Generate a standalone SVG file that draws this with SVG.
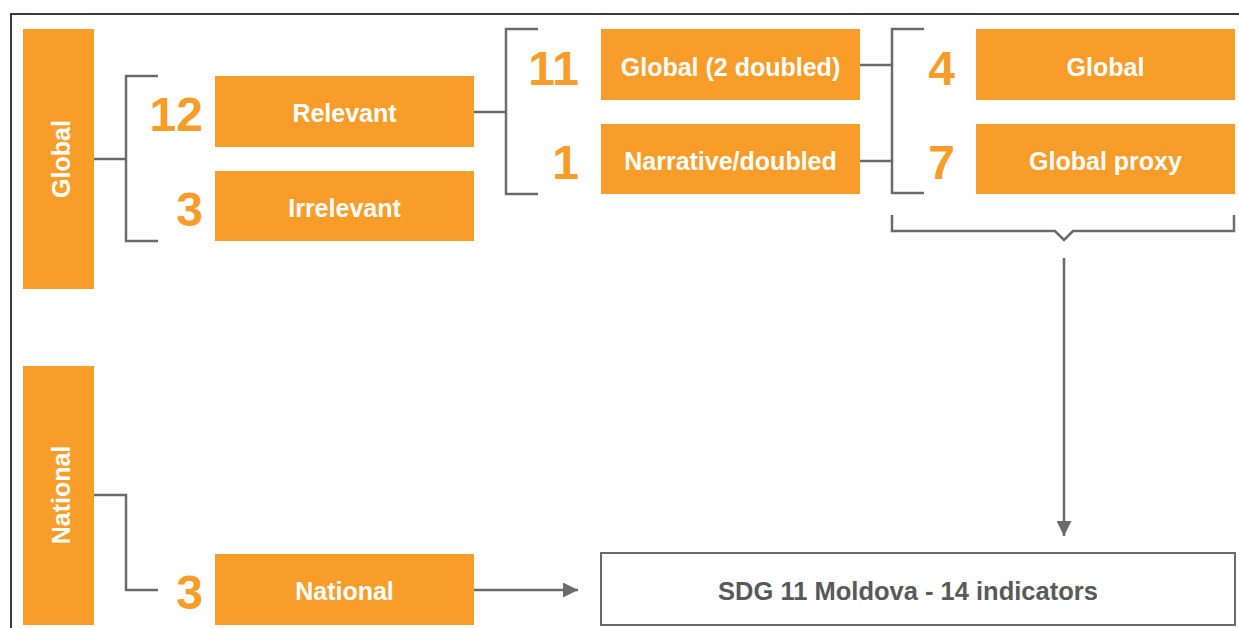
<svg xmlns="http://www.w3.org/2000/svg" width="1239" height="628" viewBox="0 0 1239 628">
<defs>
<style>
.box{fill:#F99D2A}
.bt{fill:#fff;font-family:"Liberation Sans",Arial,sans-serif;font-weight:bold;font-size:25px;text-anchor:middle}
.num{fill:#F99D2A;font-family:"Liberation Sans",Arial,sans-serif;font-weight:bold;font-size:48px;text-anchor:end}
.ln{fill:none;stroke:#6B6B6B;stroke-width:2.5}
</style>
<marker id="arr" viewBox="0 0 10 10" refX="10" refY="5" markerWidth="6" markerHeight="6" markerUnits="strokeWidth" orient="auto">
<path d="M0,0 L10,5 L0,10 Z" fill="#6B6B6B"/>
</marker>
</defs>
<rect width="1239" height="628" fill="#fff"/>
<path d="M11,628 V14 H1239" fill="none" stroke="#3a3a3a" stroke-width="2"/>

<g id="global-bar">
<rect class="box" x="23" y="29" width="71" height="260"/>
<text class="bt" transform="translate(70,159) rotate(-90)">Global</text>
</g>
<g id="national-bar">
<rect class="box" x="23" y="366" width="71" height="259"/>
<text class="bt" transform="translate(70,495) rotate(-90)">National</text>
</g>

<g id="relevant">
<text class="num" x="203" y="131">12</text>
<rect class="box" x="215" y="76" width="259" height="71"/>
<text class="bt" x="344.5" y="122">Relevant</text>
</g>
<g id="irrelevant">
<text class="num" x="203" y="226">3</text>
<rect class="box" x="215" y="171" width="259" height="70"/>
<text class="bt" x="344.5" y="217">Irrelevant</text>
</g>
<g id="global-doubled">
<text class="num" x="579" y="85">11</text>
<rect class="box" x="601" y="29" width="259" height="71"/>
<text class="bt" x="730.5" y="76">Global (2 doubled)</text>
</g>
<g id="narrative">
<text class="num" x="579" y="179">1</text>
<rect class="box" x="601" y="124" width="259" height="70"/>
<text class="bt" x="730.5" y="170">Narrative/doubled</text>
</g>
<g id="global">
<text class="num" x="955" y="85">4</text>
<rect class="box" x="976" y="29" width="259" height="71"/>
<text class="bt" x="1105.5" y="76">Global</text>
</g>
<g id="global-proxy">
<text class="num" x="955" y="179">7</text>
<rect class="box" x="976" y="124" width="259" height="70"/>
<text class="bt" x="1105.5" y="170">Global proxy</text>
</g>
<g id="national">
<text class="num" x="203" y="609">3</text>
<rect class="box" x="215" y="554" width="259" height="71"/>
<text class="bt" x="344.5" y="600">National</text>
</g>
<g id="sdg">
<rect x="601" y="553" width="634" height="72" fill="#fff" stroke="#6B6B6B" stroke-width="2"/>
<text x="908" y="600" fill="#595959" font-family="Liberation Sans, Arial, sans-serif" font-weight="bold" font-size="25.5" text-anchor="middle">SDG 11 Moldova - 14 indicators</text>
</g>

<g id="connectors">
<path class="ln" d="M94,159 H126 M158,76 H126 V241 H158"/>
<path class="ln" d="M474,112 H506 M538,29 H506 V194 H538"/>
<path class="ln" d="M860,65 H892 M860,161 H892 M924,29 H892 V193 H924"/>
<path class="ln" d="M892,215 V231 H1055 L1064,240 L1073,231 H1234 V215"/>
<path class="ln" d="M1064,258 V536" marker-end="url(#arr)"/>
<path class="ln" d="M94,495 H126 V590 H158"/>
<path class="ln" d="M474,590 H578" marker-end="url(#arr)"/>
</g>
</svg>
